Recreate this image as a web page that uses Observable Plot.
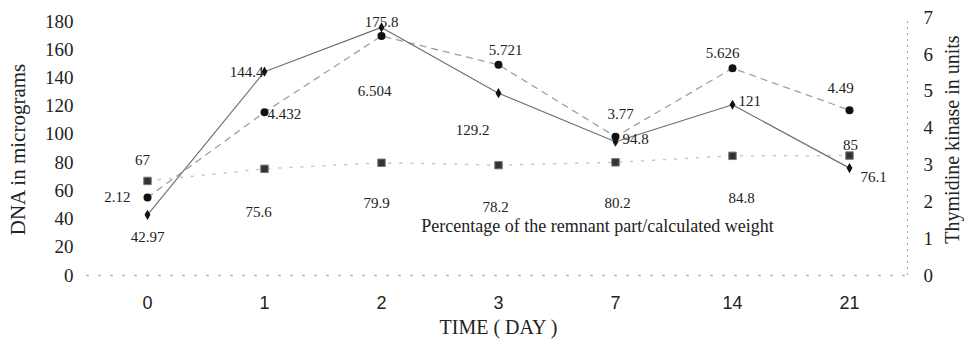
<!DOCTYPE html>
<html>
<head>
<meta charset="utf-8">
<script src="https://cdn.jsdelivr.net/npm/d3@7"></script>
<script src="https://cdn.jsdelivr.net/npm/@observablehq/plot@0.6"></script>
<style>
  html, body { margin: 0; padding: 0; background: #fff; }
  #chart svg { display: block; }
</style>
</head>
<body>
<div id="chart"></div>
<script>
// ---- data ----
const days = ["0", "1", "2", "3", "7", "14", "21"];
const dnaValues = [42.97, 144.4, 175.8, 129.2, 94.8, 121, 76.1];
const tkValues = [2.12, 4.432, 6.504, 5.721, 3.77, 5.626, 4.49];
const pctValues = [67, 75.6, 79.9, 78.2, 80.2, 84.8, 85];
const leftTicks = [0, 20, 40, 60, 80, 100, 120, 140, 160, 180];
const rightTicks = [0, 1, 2, 3, 4, 5, 6, 7];
const leftTitle = "DNA in micrograms";
const rightTitle = "Thymidine kinase in units";
const xTitle = "TIME ( DAY )";
const pctTitle = "Percentage of the remnant part/calculated weight";

// ---- layout / style (not data) ----
const K = 26.1; // right-axis unit in left-axis units
const serif = "'Liberation Serif', 'Times New Roman', serif";
const sans = "'Liberation Sans', Arial, sans-serif";
// label placements [dx, dy, anchor]
const dnaLab = [[0,22,"middle"],[-1,0,"end"],[0,-5,"middle"],[-26,37,"middle"],[7,-3,"start"],[6,-4,"start"],[11,9,"start"]];
const tkLab = [[-17,0,"end"],[3,2,"start"],[-7,55,"middle"],[7,-15,"middle"],[5,-22,"middle"],[-10,-15,"middle"],[-9,-22,"middle"]];
const pctLab = [[-5,-21,"middle"],[-6,43,"middle"],[-5,40,"middle"],[-3,42,"middle"],[2,41,"middle"],[9,42,"middle"],[1,-10,"middle"]];

const idx = days.map((d, i) => i);

function labelMarks(values, place, yf) {
  return idx.map(i => Plot.text([i], {
    x: j => days[j], y: j => yf(values[j]), text: j => String(values[j]),
    dx: place[i][0], dy: place[i][1], textAnchor: place[i][2],
    fontSize: 15, fontFamily: serif, fill: "#222"
  }));
}

const chart = Plot.plot({
  width: 964,
  height: 348,
  marginLeft: 86,
  marginRight: 54,
  marginTop: 21,
  marginBottom: 73,
  style: { fontFamily: serif, background: "#fff", color: "#222" },
  x: { type: "point", domain: days, padding: 0.5 },
  y: { domain: [0, 180] },
  marks: [
    Plot.axisY({ ticks: leftTicks, tickSize: 0, tickPadding: 13, fontSize: 19, fontFamily: serif, label: null }),
    Plot.axisY({ anchor: "right", ticks: rightTicks.map(v => v * K), tickFormat: d => String(Math.round(d / K)),
                 tickSize: 0, tickPadding: 13, fontSize: 19, fontFamily: serif, label: null }),
    Plot.axisX({ tickSize: 0, tickPadding: 21, fontSize: 18, fontFamily: sans, label: null }),
    Plot.ruleY([0], { stroke: "#bbb", strokeDasharray: "3,9", strokeWidth: 1.5 }),
    Plot.ruleX([days[days.length - 1]], { dx: 58, y1: 0, y2: 7 * K, stroke: "#aaa", strokeDasharray: "2,4", strokeWidth: 1.2 }),
    // lines
    Plot.line(idx, { x: i => days[i], y: i => pctValues[i], stroke: "#c8c8c8", strokeWidth: 1.5, strokeDasharray: "2,9" }),
    Plot.line(idx, { x: i => days[i], y: i => tkValues[i] * K, stroke: "#a0a0a0", strokeWidth: 1.3, strokeDasharray: "6,6" }),
    Plot.line(idx, { x: i => days[i], y: i => dnaValues[i], stroke: "#707070", strokeWidth: 1.2 }),
    // markers
    Plot.dot(idx, { x: i => days[i], y: i => pctValues[i], symbol: "square", r: 4.2, fill: "#333", stroke: "#777", strokeWidth: 1 }),
    Plot.dot(idx, { x: i => days[i], y: i => tkValues[i] * K, symbol: "circle", r: 4, fill: "#111" }),
    Plot.dot(idx, { x: i => days[i], y: i => dnaValues[i], symbol: "diamond", r: 3.1, fill: "#111" }),
    // labels
    ...labelMarks(dnaValues, dnaLab, v => v),
    ...labelMarks(tkValues, tkLab, v => v * K),
    ...labelMarks(pctValues, pctLab, v => v),
    // titles
    Plot.text([pctTitle], { frameAnchor: "bottom", dx: 99, dy: -44, fontSize: 18, fontFamily: serif, fill: "#222" }),
    Plot.text([xTitle], { frameAnchor: "bottom", dy: 58, fontSize: 20, fontFamily: serif, fill: "#222" }),
    Plot.text([leftTitle], { frameAnchor: "left", textAnchor: "middle", dx: -68, dy: 1, rotate: -90, fontSize: 21, fontFamily: serif, fill: "#222" }),
    Plot.text([rightTitle], { frameAnchor: "right", textAnchor: "middle", dx: 42, dy: -9, rotate: -90, fontSize: 20, fontFamily: serif, fill: "#222" })
  ]
});
document.getElementById("chart").appendChild(chart);
</script>
</body>
</html>
